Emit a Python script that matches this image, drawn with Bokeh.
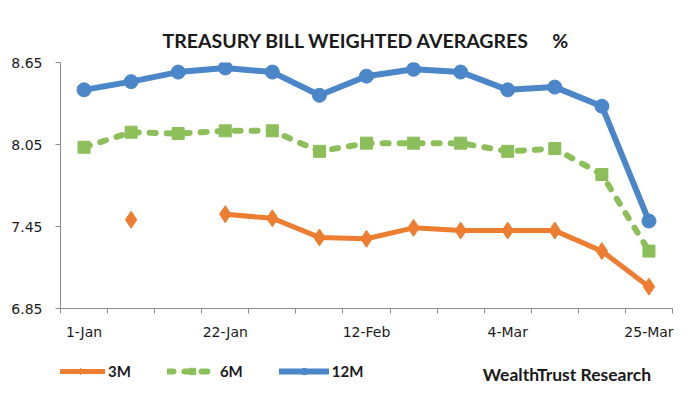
from bokeh.plotting import figure
from bokeh.layouts import column
from bokeh.models import (Range1d, FixedTicker, PrintfTickFormatter, Legend, LegendItem, Label)
from bokeh.embed import file_html
from bokeh.resources import INLINE

nan = float("nan")

# ---- data ----
dates = ["1-Jan", "8-Jan", "15-Jan", "22-Jan", "29-Jan", "5-Feb", "12-Feb",
         "19-Feb", "26-Feb", "4-Mar", "11-Mar", "18-Mar", "25-Mar"]
m3 = [nan, 7.50, nan, 7.54, 7.51, 7.37, 7.36, 7.44, 7.42, 7.42, 7.42, 7.27, 7.01]
m6 = [8.03, 8.14, 8.13, 8.15, 8.15, 8.00, 8.06, 8.06, 8.06, 8.00, 8.02, 7.83, 7.27]
m12 = [8.45, 8.51, 8.58, 8.61, 8.58, 8.41, 8.55, 8.60, 8.58, 8.45, 8.47, 8.33, 7.49]
y_ticks = [6.85, 7.45, 8.05, 8.65]
x_label_every = 3
title_text = "TREASURY BILL WEIGHTED AVERAGRES"
unit_text = "%"
source_text = "WealthTrust Research"

xs = list(range(len(dates)))
series = (("12M", m12), ("6M", m6), ("3M", m3))

C3 = "#ed7d31"
C6 = "#8cbf5a"
C12 = "#4a86c8"
AX = "#8c8c8c"
TXT = "#1a1a1a"

styles = {
    "3M": dict(color=C3, width=5, dash="solid", marker="diamond", size=17),
    "6M": dict(color=C6, width=6, dash="6 11", marker="square", size=12),
    "12M": dict(color=C12, width=6, dash="solid", marker="circle", size=14),
}

# ---------------- main chart ----------------
p = figure(width=700, height=350, output_backend="svg", toolbar_location=None,
           x_range=Range1d(-0.5, len(dates) - 0.5), y_range=Range1d(y_ticks[0], y_ticks[-1]),
           min_border_left=60, min_border_right=28, min_border_top=62, min_border_bottom=42,
           title=title_text + "\u2003\u2002" + unit_text)
p.outline_line_color = None
p.xgrid.grid_line_color = None
p.ygrid.grid_line_color = None
p.background_fill_color = "white"
p.border_fill_color = "white"

p.title.align = "center"
p.title.offset = -5
p.title.standoff = 22
p.title.text_font = "Lato"
p.title.text_font_style = "bold"
p.title.text_font_size = "19.5px"
p.title.text_color = TXT

major = xs[::x_label_every]
p.xaxis.ticker = FixedTicker(ticks=major, minor_ticks=[i - 0.5 for i in range(len(dates) + 1)])
p.xaxis.major_label_overrides = {i: dates[i] for i in major}
p.xaxis.major_tick_line_color = None
p.xaxis.major_tick_out = 5
p.xaxis.minor_tick_line_color = AX
p.xaxis.minor_tick_out = 5
p.xaxis.minor_tick_in = 0
p.xaxis.axis_line_color = AX
p.xaxis.major_label_standoff = 10
p.xaxis.major_label_text_font = "DejaVu Sans"
p.xaxis.major_label_text_font_size = "14px"
p.xaxis.major_label_text_color = TXT

p.yaxis.ticker = FixedTicker(ticks=y_ticks, minor_ticks=[])
p.yaxis.formatter = PrintfTickFormatter(format="%.2f")
p.yaxis.major_tick_line_color = AX
p.yaxis.major_tick_out = 5
p.yaxis.major_tick_in = 0
p.yaxis.axis_line_color = AX
p.yaxis.major_label_standoff = 13
p.yaxis.major_label_text_font = "DejaVu Sans"
p.yaxis.major_label_text_font_size = "14px"
p.yaxis.major_label_text_color = TXT

for name, vals in series:
    st = styles[name]
    p.line(xs, vals, line_color=st["color"], line_width=st["width"], line_dash=st["dash"],
           line_join="round", line_cap="round")
    p.scatter(xs, vals, marker=st["marker"], size=st["size"], fill_color=st["color"], line_color=st["color"])

# ---------------- legend row (separate strip below the chart) ----------------
q = figure(width=700, height=50, output_backend="svg", toolbar_location=None,
           x_range=Range1d(0, 700), y_range=Range1d(0, 50),
           x_axis_location=None, y_axis_location=None,
           min_border=0, min_border_left=0, min_border_right=0, min_border_top=0, min_border_bottom=0)
q.grid.visible = False
q.outline_line_color = None
q.background_fill_color = "white"
q.border_fill_color = "white"
# legend-key holders: same series, mapped onto a range that lies outside this strip's frame
q.extra_x_ranges = {"hold": Range1d(-200, -100)}

legend_renderers = {}
for name, vals in series:
    st = styles[name]
    lr = q.line(xs, vals, line_color=st["color"], line_width=st["width"], line_dash=st["dash"],
                line_cap="round", x_range_name="hold")
    sr = q.scatter(xs, vals, marker=st["marker"], size=st["size"] * 0.7, fill_color=st["color"],
                   line_color=st["color"], x_range_name="hold")
    legend_renderers[name] = [lr, sr]

items = [LegendItem(label=name, renderers=legend_renderers[name]) for name in ("3M", "6M", "12M")]

legend = Legend(items=items, orientation="horizontal", location=(-5, 20), glyph_width=50,
                glyph_height=16, label_standoff=3, spacing=36, padding=0, margin=0,
                border_line_color=None, background_fill_alpha=0,
                label_text_font="Lato", label_text_font_style="bold", label_text_font_size="15px",
                label_text_color=TXT)
q.add_layout(legend, "center")

q.add_layout(Label(x=483, y=26, text=source_text, text_align="left", text_baseline="alphabetic",
                   text_font="Lato", text_font_style="bold", text_font_size="17.5px", text_color=TXT))

open("out.html", "w").write(file_html(column(p, q, spacing=0), INLINE))
